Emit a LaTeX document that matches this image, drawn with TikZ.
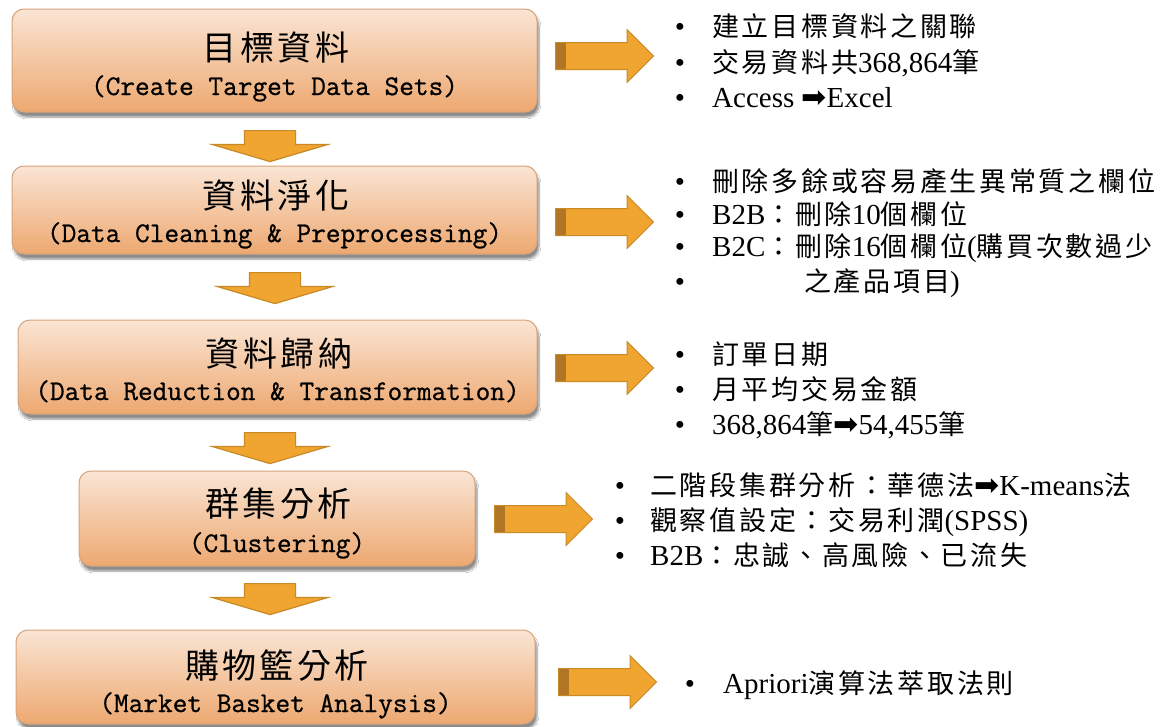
\documentclass[tikz,border=0pt]{standalone}
\usepackage{fontspec}
\setmainfont{Liberation Serif}
\newfontfamily\cjk[LetterSpace=10]{Noto Sans CJK TC}
\newfontfamily\cjkT[LetterSpace=10]{Noto Sans CJK TC}
\newfontfamily\monof[FakeBold=0.8]{Latin Modern Mono}
\newfontfamily\symf{DejaVu Sans}
\usetikzlibrary{shapes.arrows,shadows.blur}
\definecolor{boxtop}{RGB}{250,229,212}
\definecolor{boxbot}{RGB}{237,168,112}
\definecolor{boxline}{RGB}{214,163,122}
\definecolor{arrfill}{RGB}{240,165,48}
\definecolor{arrline}{RGB}{200,138,38}
\definecolor{arrdark}{RGB}{176,118,38}
\newcommand\zh[1]{{\fontsize{27}{30}\cjk #1}}
\newcommand\arr{{\fontsize{30}{30}\symf ➡}}
\newcommand\bitem[5]{\node[bul] (#1b) at (#2,#4) {\textbullet}; \node[itm] (#1) at (#3,#4) {#5};}
\begin{document}
\begin{tikzpicture}[x=1pt,y=-1pt,
  stagebox/.style={rectangle, rounded corners=12pt, draw=boxline, line width=1pt,
    top color=boxtop, bottom color=boxbot,
    blur shadow={shadow xshift=2pt, shadow yshift=-5pt, shadow blur steps=6, shadow opacity=45},
    inner sep=0pt},
  ttl/.style={anchor=base, inner sep=0pt, font=\fontsize{34}{40}\cjkT},
  eng/.style={anchor=base, inner sep=0pt, font=\fontsize{28.5}{34}\monof},
  bul/.style={anchor=base, inner sep=0pt, font=\fontsize{29}{34}\selectfont},
  itm/.style={anchor=base west, inner sep=0pt, font=\fontsize{29}{34}\selectfont},
  rarrow/.style={single arrow, anchor=tail, draw=arrline, line width=1pt, fill=arrfill,
    minimum height=98pt, inner xsep=0pt, inner ysep=13pt, single arrow head extend=13pt,
    path picture={\fill[arrdark] (path picture bounding box.south west) rectangle ([xshift=10pt]path picture bounding box.north west);}},
  darrow/.style={single arrow, anchor=tail, rotate=-90, draw=arrline, line width=1.2pt, fill=arrfill,
    minimum height=31pt, inner xsep=0pt, inner ysep=25pt, single arrow head extend=32pt,
    single arrow tip angle=147}
]
\fill[white] (0,0) rectangle (1174,726);
\useasboundingbox (0,0) rectangle (1174,726);

% stage boxes
\node[stagebox, minimum width=525pt, minimum height=103pt] (s1) at (274.5,60.5) {};
\node[ttl] (s1z) at (276,60) {目標資料};
\node[eng] (s1e) at (274.5,95) {(Create Target Data Sets)};

\node[stagebox, minimum width=525pt, minimum height=88pt] (s2) at (274.5,210) {};
\node[ttl] (s2z) at (276,208) {資料淨化};
\node[eng] (s2e) at (274.5,242) {(Data Cleaning \& Preprocessing)};

\node[stagebox, minimum width=519pt, minimum height=94pt] (s3) at (277.5,367) {};
\node[ttl] (s3z) at (279,366) {資料歸納};
\node[eng] (s3e) at (277.5,400) {(Data Reduction \& Transformation)};

\node[stagebox, minimum width=396pt, minimum height=95pt] (s4) at (277,518.5) {};
\node[ttl] (s4z) at (278.5,516) {群集分析};
\node[eng] (s4e) at (277,552) {(Clustering)};

\node[stagebox, minimum width=519pt, minimum height=94pt] (s5) at (275.5,677) {};
\node[ttl] (s5z) at (277,678) {購物籃分析};
\node[eng] (s5e) at (275.5,712) {(Market Basket Analysis)};

% down arrows
\node[darrow] (d1) at (270,130) {};
\node[darrow] (d2) at (275,272) {};
\node[darrow] (d3) at (270,432) {};
\node[darrow] (d4) at (270,583) {};

% right arrows
\node[rarrow] (r1) at (555,56) {};
\node[rarrow] (r2) at (555,222) {};
\node[rarrow] (r3) at (555,368) {};
\node[rarrow] (r4) at (494,519) {};
\node[rarrow] (r5) at (558,682) {};

% bullet lists
\bitem{l1a}{680}{712}{36}{\zh{建立目標資料之關聯}}
\bitem{l1b}{680}{712}{72}{\zh{交易資料共}368,864\zh{筆}}
\bitem{l1c}{680}{712}{107}{Access \arr Excel}

\bitem{l2a}{680}{712}{191}{\zh{刪除多餘或容易產生異常質之欄位}}
\bitem{l2b}{680}{712}{224}{B2B\zh{：刪除}10\zh{個欄位}}
\bitem{l2c}{680}{712}{256}{B2C\zh{：刪除}16\zh{個欄位}(\zh{購買次數過少}}
\bitem{l2d}{680}{804}{291}{\zh{之產品項目})}

\bitem{l3a}{680}{712}{364}{\zh{訂單日期}}
\bitem{l3b}{680}{712}{399}{\zh{月平均交易金額}}
\bitem{l3c}{680}{712}{434}{368,864\zh{筆}\arr 54,455\zh{筆}}

\bitem{l4a}{620}{650}{495}{\zh{二階段集群分析：華德法}\arr K-means\zh{法}}
\bitem{l4b}{620}{650}{530}{\zh{觀察值設定：交易利潤}(SPSS)}
\bitem{l4c}{620}{650}{565}{B2B\zh{：忠誠、高風險、已流失}}

\bitem{l5a}{690}{723}{693}{Apriori\zh{演算法萃取法則}}
\end{tikzpicture}
\end{document}
